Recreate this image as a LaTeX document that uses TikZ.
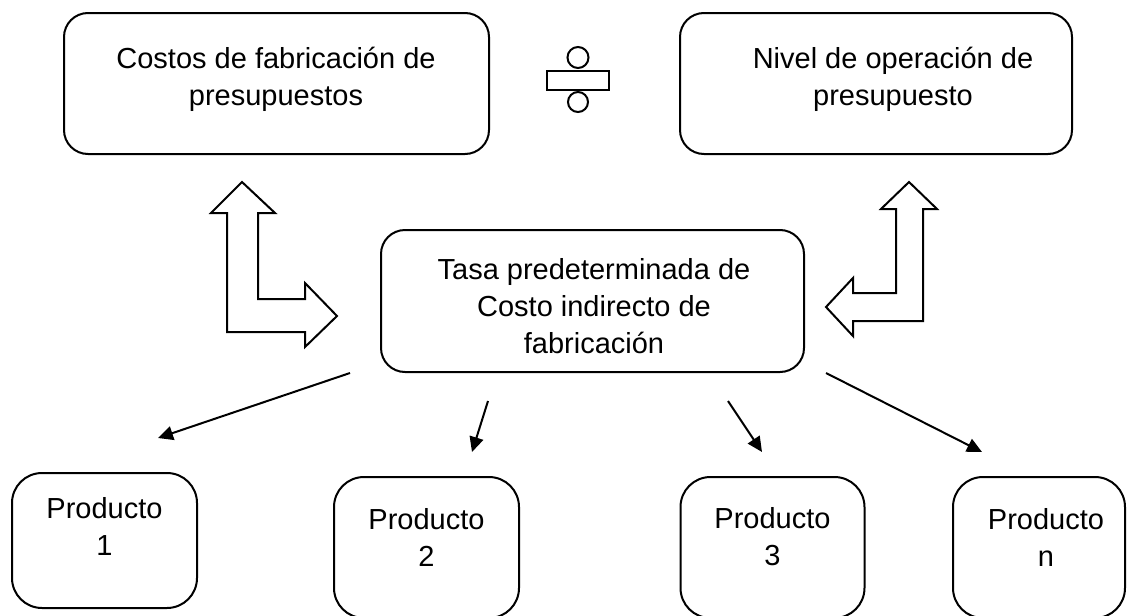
\documentclass[tikz,border=0pt]{standalone}
\usepackage{fontspec}
\setmainfont{Liberation Sans}
\usetikzlibrary{arrows.meta}
\begin{document}
\begin{tikzpicture}[x=1pt,y=-1pt,
  rbox/.style={draw, line width=2pt, rounded corners=24pt, inner sep=0pt, outer sep=0pt},
  pbox/.style={draw, line width=2pt, rounded corners=30pt, inner sep=0pt, outer sep=0pt, minimum height=141pt},
  lbl/.style={align=center, inner sep=0pt, font={\fontsize{29}{37}\selectfont}},
  conn/.style={line width=2pt, -{Triangle[length=15pt,width=14pt]}},
  barrow/.style={draw, line width=2pt, fill=white, line join=miter},
  divsym/.style={draw, line width=2pt}]
\useasboundingbox (0,0) rectangle (1128,616);
\clip (0,0) rectangle (1128,616);
% top boxes
\node[rbox, minimum width=425pt, minimum height=141pt] (A) at (276.5,83.5) {};
\node[lbl] (tA) at (276,79) {Costos de fabricación de\\presupuestos};
\node[rbox, minimum width=392pt, minimum height=141pt] (B) at (876,83.5) {};
\node[lbl] (tB) at (893,79) {Nivel de operación de\\presupuesto};
% division symbol
\draw[divsym] (547,71) rectangle (609,90);
\draw[divsym] (578,57.5) circle[radius=10.5pt];
\draw[divsym] (578,102) circle[radius=10pt];
% central box
\node[rbox, minimum width=423pt, minimum height=142pt] (C) at (592.5,301) {};
\node[lbl] (tC) at (594,306) {Tasa predeterminada de\\Costo indirecto de\\fabricación};
% block arrows
\draw[barrow] (242,182) -- (275,213) -- (258,213) -- (258,299) -- (305,299) -- (305,283)
  -- (337,316) -- (305,347) -- (305,332) -- (227,332) -- (227,213) -- (211,213) -- cycle;
\draw[barrow] (909,182) -- (937,209) -- (923,209) -- (923,321) -- (853,321) -- (853,336)
  -- (826,307) -- (853,278) -- (853,293) -- (896,293) -- (896,209) -- (881,209) -- cycle;
% product boxes
\node[pbox, minimum width=185pt, minimum height=135pt] (P1) at (104.5,540.5) {};
\node[lbl] (t1) at (104.5,526) {Producto\\1};
\node[pbox, minimum width=185pt] (P2) at (426.5,547.5) {};
\node[lbl] (t2) at (426.5,537) {Producto\\2};
\node[pbox, minimum width=184pt] (P3) at (772.5,547.5) {};
\node[lbl] (t3) at (772.5,537) {Producto\\3};
\node[pbox, minimum width=172pt] (P4) at (1039,547.5) {};
\node[lbl] (t4) at (1046,537) {Producto\\n};
% connectors
\coordinate (s1) at (350,373); \coordinate (e1) at (158,438);
\coordinate (s2) at (488,401); \coordinate (e2) at (472,452);
\coordinate (s3) at (728,401); \coordinate (e3) at (762,452);
\coordinate (s4) at (826,373); \coordinate (e4) at (982,452);
\draw[conn] (s1) -- (e1);
\draw[conn] (s2) -- (e2);
\draw[conn] (s3) -- (e3);
\draw[conn] (s4) -- (e4);
\end{tikzpicture}
\end{document}
